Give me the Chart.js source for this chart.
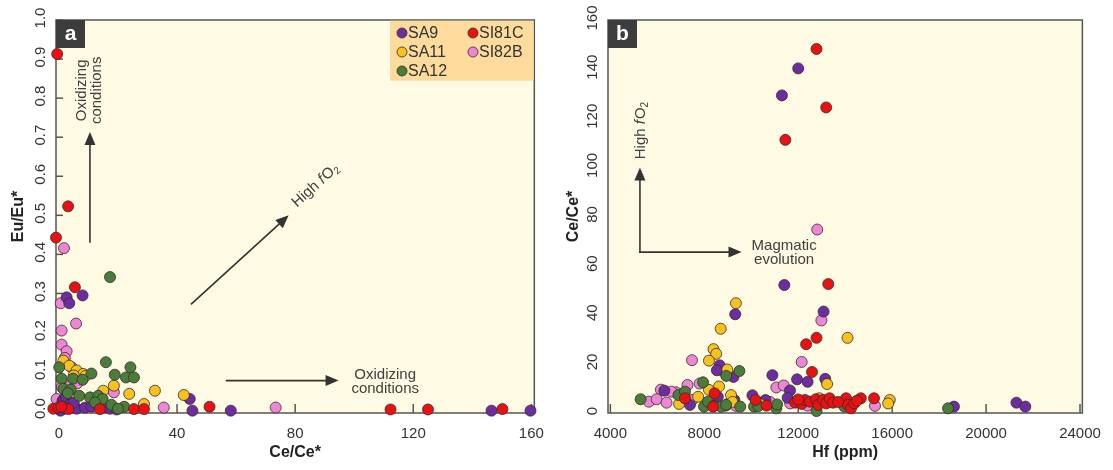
<!DOCTYPE html>
<html>
<head>
<meta charset="utf-8">
<script src="https://cdn.jsdelivr.net/npm/chart.js@4.4.1/dist/chart.umd.min.js"></script>
<style>
  html, body { margin: 0; padding: 0; background: #fff; }
  #wrap { position: relative; width: 1113px; height: 470px; }
  #ca { position: absolute; left: 0; top: 0; }
  #cb { position: absolute; left: 556px; top: 0; }
</style>
</head>
<body>
<div id="wrap">
  <canvas id="ca" width="556" height="470"></canvas>
  <canvas id="cb" width="557" height="470"></canvas>
</div>
<script>
// samples
const samples = ['SA9', 'SA11', 'SA12', 'SI81C', 'SI82B'];

// panel a: Ce/Ce* (x) vs Eu/Eu* (y)
const ceA_SA9 = [2.6, 3.5, 8.0, 1.2, 1.7, 2.4, 2.0, 4.3, 6.0, 8.8, 15.0, 17.3, 19.5, 3.5, 5.0, 11.0, 14.5, 0.5, 44.3, 45.2, 58.2, 146.5, 159.7];
const euA_SA9 = [0.29, 0.275, 0.295, 0.025, 0.03, 0.035, 0.005, 0.008, 0.005, 0.008, 0.008, 0.005, 0.003, 0.015, 0.02, 0.01, 0.018, 0.0, 0.03, 0.0, 0.0, 0.0, 0.0];
const ceA_SA11 = [1.5, 3.5, 6.0, 8.2, 9.0, 15.0, 18.6, 23.8, 32.5, 42.3, 28.8, 5.0];
const euA_SA11 = [0.128, 0.115, 0.103, 0.094, 0.089, 0.051, 0.064, 0.043, 0.051, 0.04, 0.017, 0.09];
const ceA_SA12 = [17.3, 15.9, 0.1, 18.9, 24.2, 22.7, 25.4, 11.0, 0.9, 4.8, 8.0, 1.5, 4.0, 6.9, 10.5, 13.3, 14.8, 22.1, 17.8, 12.2, 3.0, 20.0];
const euA_SA12 = [0.342, 0.124, 0.111, 0.092, 0.111, 0.085, 0.085, 0.095, 0.082, 0.082, 0.079, 0.056, 0.054, 0.038, 0.034, 0.038, 0.03, 0.01, 0.015, 0.021, 0.045, 0.005];
const ceA_SI81C = [-0.6, -1.0, 3.1, 5.4, -1.9, -0.2, 1.7, 3.2, 0.8, 13.9, 25.4, 28.8, 51.0, 112.3, 125.0, 150.2];
const euA_SI81C = [0.913, 0.443, 0.523, 0.316, 0.005, 0.008, 0.008, 0.004, 0.01, 0.004, 0.004, 0.004, 0.01, 0.003, 0.003, 0.004];
const ceA_SI82B = [1.7, 0.6, 5.8, 0.9, 0.9, 2.6, 2.0, 4.3, 18.6, 35.5, 73.4, -0.8, 1.0, 2.2, 4.0, 6.2, 3.0];
const euA_SI82B = [0.416, 0.275, 0.223, 0.205, 0.169, 0.152, 0.135, 0.111, 0.047, 0.008, 0.008, 0.03, 0.06, 0.05, 0.065, 0.07, 0.02];

// panel b: Hf ppm (x) vs Ce/Ce* (y)
const hfB_SA9 = [12000, 11306, 11409, 9318, 13080, 8655, 8537, 9244, 10900, 11950, 12400, 13150, 11650, 6300, 11550, 10050, 7389, 8578, 9279, 10607, 18631, 21292, 21670, 8900, 12900];
const ceB_SA9 = [140.3, 129.3, 52.1, 40.2, 41.3, 19.4, 17.4, 14.7, 15.4, 13.7, 12.7, 13.9, 9.2, 9.1, 6.2, 7.2, 3.3, 6.6, 5.3, 5.3, 2.6, 4.2, 2.6, 3.0, 5.0];
const hfB_SA11 = [9347, 8699, 14100, 8390, 8507, 8198, 8979, 13230, 8200, 8630, 6927, 7738, 9138, 10372, 15900, 15830, 12900, 9200];
const ceB_SA11 = [44.7, 34.3, 30.6, 26.0, 24.1, 21.3, 17.7, 11.8, 9.4, 10.8, 3.7, 6.6, 7.3, 3.7, 5.3, 3.9, 6.0, 4.5];
const hfB_SA12 = [5289, 6898, 7179, 7990, 8158, 8410, 7948, 8718, 8928, 9531, 10119, 11069, 12779, 13968, 18379, 9494, 8935, 11100, 10300];
const ceB_SA12 = [5.6, 7.3, 8.7, 2.6, 4.6, 2.9, 12.5, 2.6, 3.3, 2.6, 2.6, 1.9, 0.8, 2.6, 1.9, 17.1, 15.1, 3.5, 2.8];
const hfB_SI81C = [12779, 13192, 11453, 13280, 12337, 12779, 12588, 7179, 8368, 8438, 10187, 10649, 11868, 12149, 12289, 12499, 12750, 12849, 13058, 13198, 13338, 13479, 14038, 14108, 14248, 14388, 14668, 15227, 12000, 13700, 14500];
const ceB_SI81C = [148.2, 124.4, 111.2, 52.5, 28.0, 30.6, 16.7, 6.0, 2.6, 8.0, 5.3, 3.0, 4.2, 3.7, 5.3, 4.6, 5.6, 3.3, 5.3, 3.9, 6.0, 4.2, 6.0, 3.3, 1.9, 3.9, 6.0, 6.0, 5.5, 4.5, 5.0];
const hfB_SI82B = [12809, 12985, 7476, 12146, 8802, 11070, 11380, 7800, 7285, 6150, 6799, 5638, 5974, 6394, 7486, 9012, 9347, 11657, 15269, 6604, 12400, 10800];
const ceB_SI82B = [74.7, 37.7, 21.5, 20.8, 17.1, 10.4, 11.2, 12.0, 11.4, 9.5, 8.4, 4.6, 5.6, 4.2, 5.3, 3.7, 2.9, 3.9, 2.9, 8.7, 3.0, 4.5];

// tick labels
const xTicksA = [0, 40, 80, 120, 160];
const yTicksA = [0, 0.1, 0.2, 0.3, 0.4, 0.5, 0.6, 0.7, 0.8, 0.9, 1.0];
const xTicksB = [4000, 8000, 12000, 16000, 20000, 24000];
const yTicksB = [0, 20, 40, 60, 80, 100, 120, 140, 160];

const colors = ['#6b2da0', '#f7c21c', '#4a7c3a', '#e81212', '#ee86d6'];
const orders = [3, 2, 1, 0, 4];
const FONT = '"Liberation Sans", Arial, sans-serif';

function makeSets(xs, ys) {
  return samples.map((name, i) => ({
    label: name,
    data: xs[i].map((x, j) => ({ x: x, y: ys[i][j] })),
    backgroundColor: colors[i],
    borderColor: '#3a2a2a',
    borderWidth: 0.8,
    pointRadius: 5.5,
    order: orders[i],
    clip: false
  }));
}

function arrow(ctx, x1, y1, x2, y2) {
  const a = Math.atan2(y2 - y1, x2 - x1), L = 13, W = 5.5;
  ctx.save();
  ctx.strokeStyle = '#333';
  ctx.fillStyle = '#333';
  ctx.lineWidth = 1.6;
  ctx.beginPath();
  ctx.moveTo(x1, y1);
  ctx.lineTo(x2 - L * 0.8 * Math.cos(a), y2 - L * 0.8 * Math.sin(a));
  ctx.stroke();
  ctx.translate(x2, y2);
  ctx.rotate(a);
  ctx.beginPath();
  ctx.moveTo(0, 0);
  ctx.lineTo(-L, -W);
  ctx.lineTo(-L, W);
  ctx.closePath();
  ctx.fill();
  ctx.restore();
}

// "High fO2" with italic f and subscript 2, centred on (x, y)
function highFO2(ctx, x, y, ang) {
  const reg = '15px ' + FONT, it = 'italic 15px ' + FONT, sub = '10px ' + FONT;
  ctx.save();
  ctx.translate(x, y);
  ctx.rotate(ang);
  ctx.font = reg; const w1 = ctx.measureText('High ').width;
  ctx.font = it; const w2 = ctx.measureText('f').width + 1;
  ctx.font = reg; const w3 = ctx.measureText('O').width;
  ctx.font = sub; const w4 = ctx.measureText('2').width;
  let sx = -(w1 + w2 + w3 + w4) / 2;
  ctx.fillStyle = '#404040';
  ctx.textBaseline = 'middle';
  ctx.textAlign = 'left';
  ctx.font = reg; ctx.fillText('High ', sx, 0); sx += w1;
  ctx.font = it; ctx.fillText('f', sx, 0); sx += w2;
  ctx.font = reg; ctx.fillText('O', sx, 0); sx += w3;
  ctx.font = sub; ctx.fillText('2', sx, 4);
  ctx.restore();
}

function lines(ctx, arr, x, y, lh, ang) {
  ctx.save();
  ctx.translate(x, y);
  ctx.rotate(ang || 0);
  ctx.font = '15px ' + FONT;
  ctx.fillStyle = '#404040';
  ctx.textAlign = 'center';
  ctx.textBaseline = 'middle';
  arr.forEach((t, i) => ctx.fillText(t, 0, (i - (arr.length - 1) / 2) * lh));
  ctx.restore();
}

const deco = {
  id: 'deco',
  beforeDraw(chart) {
    const { ctx, chartArea: c } = chart;
    ctx.save();
    ctx.fillStyle = '#fefae3';
    ctx.fillRect(c.left, c.top, c.right - c.left, c.bottom - c.top);
    ctx.restore();
  },
  beforeDatasetsDraw(chart, args, opts) {
    const { ctx, chartArea: c, scales } = chart;
    ctx.save();
    ctx.strokeStyle = '#555';
    ctx.lineWidth = 1.5;
    ctx.strokeRect(c.left, c.top, c.right - c.left, c.bottom - c.top);
    scales.x.ticks.forEach(t => {
      const px = scales.x.getPixelForValue(t.value);
      ctx.beginPath(); ctx.moveTo(px, c.bottom); ctx.lineTo(px, c.bottom - 9); ctx.stroke();
    });
    if (opts.yTicks) {
      scales.y.ticks.forEach(t => {
        const py = scales.y.getPixelForValue(t.value);
        ctx.beginPath(); ctx.moveTo(c.left, py); ctx.lineTo(c.left + 7, py); ctx.stroke();
      });
    }
    ctx.restore();
  },
  afterDatasetsDraw(chart, args, opts) {
    const { ctx, chartArea: c, scales } = chart;
    // rotated y tick labels
    ctx.save();
    ctx.font = '15px ' + FONT;
    ctx.fillStyle = '#333';
    ctx.textAlign = 'center';
    ctx.textBaseline = 'middle';
    scales.y.ticks.forEach(t => {
      const py = scales.y.getPixelForValue(t.value);
      ctx.save();
      ctx.translate(c.left - 15, py - 2);
      ctx.rotate(-Math.PI / 2);
      ctx.fillText(opts.yFmt(t.value), 0, 0);
      ctx.restore();
    });
    // panel letter
    ctx.fillStyle = '#3c3c3c';
    ctx.fillRect(c.left, c.top, 29, 28);
    ctx.fillStyle = '#fff';
    ctx.font = 'bold 21px ' + FONT;
    ctx.fillText(opts.letter, c.left + 14.5, c.top + 14);
    ctx.restore();
    if (opts.extra) opts.extra(chart);
  }
};

function legendA(chart) {
  const { ctx, chartArea: c } = chart;
  ctx.save();
  ctx.fillStyle = '#fcdb9c';
  ctx.fillRect(390, c.top + 0.75, c.right - 390 - 0.75, 60);
  const pos = [[402, 33], [402, 52], [402, 71], [473, 33], [473, 52]];
  ctx.font = '16px ' + FONT;
  ctx.textBaseline = 'middle';
  ctx.textAlign = 'left';
  samples.forEach((name, i) => {
    const [x, y] = pos[i];
    ctx.beginPath();
    ctx.arc(x, y, 5, 0, Math.PI * 2);
    ctx.fillStyle = colors[i];
    ctx.fill();
    ctx.lineWidth = 0.8;
    ctx.strokeStyle = '#3a2a2a';
    ctx.stroke();
    ctx.fillStyle = '#333';
    ctx.fillText(name, x + 6, y + 1);
  });
  ctx.restore();
}

function extraA(chart) {
  const { ctx, scales: { x, y } } = chart;
  legendA(chart);
  // vertical arrow + label
  arrow(ctx, x.getPixelForValue(10.5), y.getPixelForValue(0.43), x.getPixelForValue(10.5), y.getPixelForValue(0.713));
  lines(ctx, ['Oxidizing', 'conditions'], x.getPixelForValue(10.2), y.getPixelForValue(0.82), 15, -Math.PI / 2);
  // diagonal arrow + label
  const x1 = x.getPixelForValue(44.7), y1 = y.getPixelForValue(0.272);
  const x2 = x.getPixelForValue(77.8), y2 = y.getPixelForValue(0.5);
  arrow(ctx, x1, y1, x2, y2);
  const a = Math.atan2(y2 - y1, x2 - x1);
  const dx = Math.cos(a), dy = Math.sin(a);
  highFO2(ctx, x2 + 40 * dx + 4 * dy, y2 + 40 * dy - 4 * dx, a);
  // horizontal arrow + label
  arrow(ctx, x.getPixelForValue(56.5), y.getPixelForValue(0.077), x.getPixelForValue(94.7), y.getPixelForValue(0.077));
  lines(ctx, ['Oxidizing', 'conditions'], x.getPixelForValue(110.5), y.getPixelForValue(0.074), 14);
}

function extraB(chart) {
  const { ctx, scales: { x, y } } = chart;
  const cx = x.getPixelForValue(5260), cy = y.getPixelForValue(65.5);
  arrow(ctx, cx, cy + 0.8, cx, y.getPixelForValue(100));
  arrow(ctx, cx - 0.8, cy, x.getPixelForValue(9586), cy);
  highFO2(ctx, cx + 1, y.getPixelForValue(115), -Math.PI / 2);
  lines(ctx, ['Magmatic', 'evolution'], x.getPixelForValue(11400), y.getPixelForValue(65.2), 14);
}

function makeChart(id, sets, cfg) {
  return new Chart(document.getElementById(id), {
    type: 'scatter',
    data: { datasets: sets },
    options: {
      responsive: false,
      animation: false,
      devicePixelRatio: 1,
      layout: { padding: { left: 0, top: 20, right: cfg.right, bottom: 0 } },
      plugins: {
        legend: { display: false },
        tooltip: { enabled: false },
        deco: { letter: cfg.letter, yFmt: cfg.yFmt, yTicks: cfg.yInward, extra: cfg.extra }
      },
      scales: {
        x: {
          type: 'linear',
          min: cfg.xMin, max: cfg.xMax,
          afterBuildTicks: s => { s.ticks = cfg.xTicks.map(v => ({ value: v })); },
          afterFit: s => { s.height = 57; },
          grid: { display: false, drawTicks: false },
          border: { display: false },
          ticks: { color: '#333', font: { family: FONT, size: 15 }, padding: 12, maxRotation: 0, callback: v => String(v) },
          title: { display: true, text: cfg.xTitle, color: '#222', font: { family: FONT, size: 16, weight: 'bold' }, padding: { top: 0, bottom: 8 } }
        },
        y: {
          type: 'linear',
          min: cfg.yMin, max: cfg.yMax,
          afterBuildTicks: s => { s.ticks = cfg.yTicks.map(v => ({ value: v })); },
          afterFit: s => { s.width = cfg.yWidth; },
          grid: { display: false, drawTicks: false },
          border: { display: false },
          ticks: { display: false },
          title: { display: true, text: cfg.yTitle, color: '#222', font: { family: FONT, size: 16, weight: 'bold' }, padding: { top: cfg.yTitlePad, bottom: 0 } }
        }
      }
    },
    plugins: [deco]
  });
}

makeChart('ca',
  makeSets([ceA_SA9, ceA_SA11, ceA_SA12, ceA_SI81C, ceA_SI82B], [euA_SA9, euA_SA11, euA_SA12, euA_SI81C, euA_SI82B]),
  { letter: 'a', right: 20, yWidth: 56, yTitlePad: 9, xMin: -1, xMax: 161, yMin: -0.006, yMax: 1.0,
    xTicks: xTicksA, yTicks: yTicksA, xTitle: 'Ce/Ce*', yTitle: 'Eu/Eu*', yInward: true,
    yFmt: v => v.toFixed(1), extra: extraA });

makeChart('cb',
  makeSets([hfB_SA9, hfB_SA11, hfB_SA12, hfB_SI81C, hfB_SI82B], [ceB_SA9, ceB_SA11, ceB_SA12, ceB_SI81C, ceB_SI82B]),
  { letter: 'b', right: 25, yWidth: 52, yTitlePad: 8, xMin: 3900, xMax: 24100, yMin: 0, yMax: 160,
    xTicks: xTicksB, yTicks: yTicksB, xTitle: 'Hf (ppm)', yTitle: 'Ce/Ce*', yInward: false,
    yFmt: v => String(v), extra: extraB });
</script>
</body>
</html>
